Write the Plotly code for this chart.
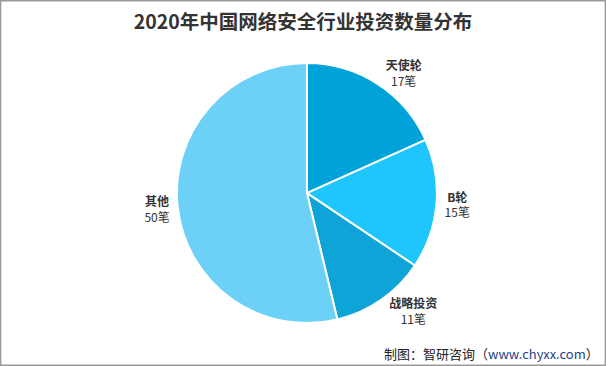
import plotly.graph_objects as go

labels = ["天使轮", "B轮", "战略投资", "其他"]
values = [17, 15, 11, 50]
colors = ["#00a3d9", "#1ec6fd", "#0ea4d8", "#6dd0f6"]
title_text = "2020年中国网络安全行业投资数量分布"
source_text = "制图：智研咨询（<span style='color:#1f3f8f'>www.chyxx.com</span>）"

fig = go.Figure()
fig.add_trace(go.Pie(
    labels=labels, values=values, sort=False, direction="clockwise", rotation=0,
    marker=dict(colors=colors, line=dict(color="white", width=2)),
    texttemplate="<b>%{label}</b><br>%{value}笔",
    textposition="outside",
    textfont=dict(family="Noto Sans CJK SC", size=12, color="#333333"),
    hoverinfo="label+value",
    showlegend=False,
    domain=dict(x=[0.292, 0.721], y=[0.117, 0.828]),
))

fig.update_layout(
    width=606, height=366,
    margin=dict(l=0, r=0, t=0, b=0),
    paper_bgcolor="white",
    title=dict(text="<b>" + title_text + "</b>", x=0.5, xanchor="center", y=0.94, yanchor="middle",
               font=dict(family="Noto Sans CJK SC", size=19.5, color="#333333")),
    annotations=[dict(text=source_text, x=0.992, y=0.035, xref="paper", yref="paper",
                      xanchor="right", yanchor="middle", showarrow=False,
                      font=dict(family="Noto Sans CJK SC", size=13, color="#222222"))],
    shapes=[dict(type="rect", xref="paper", yref="paper", x0=0.001, y0=0.002, x1=0.999, y1=0.998,
                 line=dict(color="#9a9a9a", width=1.5))],
)

fig.write_html("out.html", config={"displayModeBar": False},
               post_script="document.body.style.margin='0';document.body.style.overflow='hidden';")
